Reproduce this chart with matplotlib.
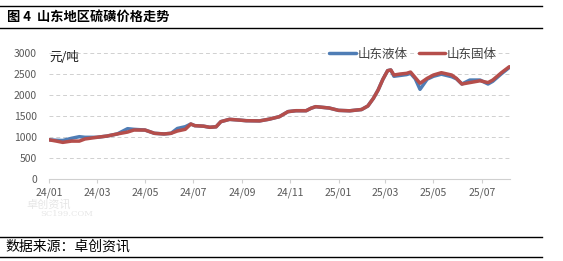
import numpy as np
import pandas as pd
import matplotlib
matplotlib.use('Agg')
import matplotlib.pyplot as plt
import matplotlib.dates as mdates

plt.rcParams['font.family'] = ['Noto Sans CJK SC', 'DejaVu Sans']

dates = ['2024-01-01', '2024-01-10', '2024-01-18', '2024-01-29', '2024-02-08', '2024-02-15',
         '2024-03-01', '2024-03-14', '2024-03-27', '2024-04-09', '2024-04-17', '2024-05-01',
         '2024-05-13', '2024-05-25', '2024-06-03', '2024-06-11', '2024-06-21', '2024-06-28',
         '2024-07-03', '2024-07-14', '2024-07-22', '2024-07-30', '2024-08-05', '2024-08-16',
         '2024-08-28', '2024-09-06', '2024-09-23', '2024-10-05', '2024-10-18', '2024-10-29',
         '2024-11-08', '2024-11-21', '2024-11-27', '2024-12-03', '2024-12-20', '2025-01-01',
         '2025-01-15', '2025-01-30', '2025-02-07', '2025-02-14', '2025-02-20', '2025-02-26',
         '2025-03-04', '2025-03-08', '2025-03-12', '2025-03-20', '2025-03-28', '2025-04-02',
         '2025-04-08', '2025-04-14', '2025-04-23', '2025-05-01', '2025-05-11', '2025-05-24',
         '2025-05-30', '2025-06-06', '2025-06-16', '2025-06-29', '2025-07-09', '2025-07-15',
         '2025-07-26', '2025-08-05']

liquid = [930, 920, 915, 966, 1005, 990, 990, 1020, 1070, 1195, 1180, 1163, 1085, 1070,
          1085, 1200, 1242, 1306, 1267, 1255, 1228, 1240, 1362, 1417, 1400, 1385, 1380,
          1420, 1480, 1600, 1622, 1622, 1680, 1718, 1686, 1630, 1620, 1650, 1734, 1916,
          2114, 2368, 2573, 2590, 2440, 2460, 2480, 2510, 2380, 2130, 2370, 2440, 2490,
          2430, 2380, 2256, 2350, 2350, 2256, 2320, 2500, 2650]

solid = [930, 900, 870, 900, 900, 950, 990, 1020, 1070, 1115, 1163, 1163, 1085, 1070,
         1085, 1140, 1180, 1306, 1267, 1255, 1228, 1240, 1362, 1417, 1400, 1385, 1380,
         1420, 1480, 1600, 1622, 1622, 1680, 1718, 1686, 1630, 1620, 1650, 1734, 1916,
         2114, 2368, 2573, 2590, 2470, 2494, 2510, 2540, 2406, 2273, 2390, 2470, 2525,
         2470, 2390, 2256, 2290, 2333, 2290, 2350, 2525, 2667]

yticks = [0, 500, 1000, 1500, 2000, 2500, 3000]

def main():
    x = pd.to_datetime(dates)
    fig = plt.figure(figsize=(5.63, 2.61), dpi=100)
    ax = fig.add_axes([0.0876, 0.3142, 0.8185, 0.4839])

    ax.plot(x, liquid, color='#4F7DB5', lw=2.5, label='山东液体', solid_capstyle='round')
    ax.plot(x, solid, color='#B54E4B', lw=2.5, label='山东固体', solid_capstyle='round')

    ax.set_ylim(0, 3000)
    ax.set_xlim(pd.Timestamp('2024-01-01'), pd.Timestamp('2025-08-06'))
    ax.set_yticks(yticks)
    for v in yticks[1:]:
        ax.axhline(v, color='#d0d0d0', lw=0.7, ls=(0, (4, 3)), zorder=0)

    ax.xaxis.set_major_locator(mdates.MonthLocator(bymonth=[1, 3, 5, 7, 9, 11]))
    ax.xaxis.set_major_formatter(mdates.DateFormatter('%y/%m'))
    ax.tick_params(axis='x', length=3, color='#d0d0d0', labelsize=7.5, labelcolor='#595959', pad=3)
    ax.tick_params(axis='y', length=0, labelsize=7.5, labelcolor='#595959', pad=9)
    for s in ['top', 'right', 'left']:
        ax.spines[s].set_visible(False)
    ax.spines['bottom'].set_color('#d0d0d0')
    ax.spines['bottom'].set_linewidth(0.8)

    fig.text(49 / 563, 1 - 57 / 261, '元/吨', fontsize=9, va='center', ha='left', color='#1a1a1a')

    leg = ax.legend(loc='center', bbox_to_anchor=(413 / 563, 1 - 54 / 261), bbox_transform=fig.transFigure,
                    ncol=2, frameon=False, fontsize=9, handlelength=2.1, handletextpad=0.15,
                    columnspacing=0.9, borderpad=0)
    for t in leg.get_texts():
        t.set_color('#404040')

    # watermark (faint, kept just below the tick labels)
    fig.text(26 / 563, 1 - 204 / 261, '卓创资讯', fontsize=8, color='#e6e6e6', va='center')
    fig.text(40 / 563, 1 - 214 / 261, 'SC199.COM', fontsize=6, color='#e6e6e6', va='center',
             family='DejaVu Serif')

    # title and footer
    for yy in [6, 28, 236.7, 257.3]:
        fig.add_artist(plt.Line2D([0, 542 / 563], [1 - yy / 261] * 2, color='black', lw=1.0,
                                  transform=fig.transFigure))
    fig.text(7 / 563, 1 - 17 / 261, '图 4  山东地区硫磺价格走势', fontsize=9.5, fontweight='bold',
             va='center', ha='left', color='black')
    fig.text(5 / 563, 1 - 247 / 261, '数据来源：卓创资讯', fontsize=10, va='center', ha='left',
             color='black')

    fig.savefig('out.png', dpi=100)

if __name__ == "__main__":
    main()
